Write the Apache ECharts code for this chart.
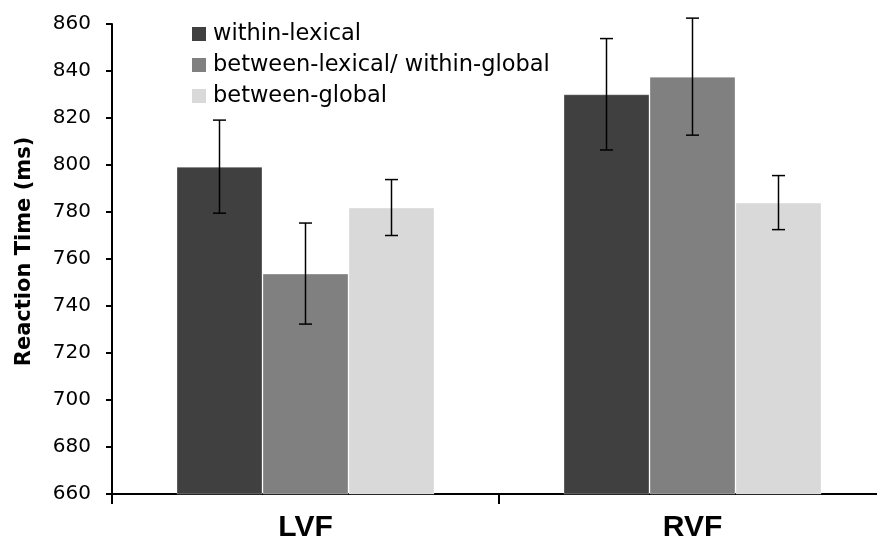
<!DOCTYPE html>
<html>
<head>
<meta charset="utf-8">
<script src="https://cdn.jsdelivr.net/npm/echarts@6/dist/echarts.min.js"></script>
<style>
  html, body { margin: 0; padding: 0; background: #fff; }
  #chart { width: 877px; height: 541px; }
</style>
</head>
<body>
<div id="chart"></div>
<script>
// Visual field categories and the three priming conditions
const categories = ['LVF', 'RVF'];
const seriesNames = ['within-lexical', 'between-lexical/ within-global', 'between-global'];

// Mean reaction times (ms)
const withinLexical = [799.3, 830.1];
const betweenLexical = [753.8, 837.6];
const betweenGlobal = [781.9, 784.0];

// Error bar half-widths (ms)
const withinLexicalErr = [19.8, 23.7];
const betweenLexicalErr = [21.5, 24.9];
const betweenGlobalErr = [11.9, 11.5];

// Value axis range and step
const yMin = 660;
const yMax = 860;
const yStep = 20;

const colors = ['#404040', '#808080', '#d9d9d9'];
const CATEGORY_GAP = 1 / 3;

const means = [withinLexical, betweenLexical, betweenGlobal];
const errs = [withinLexicalErr, betweenLexicalErr, betweenGlobalErr];

function errorBarRenderer(slot) {
  return function (params, api) {
    const cat = api.value(0);
    const mean = api.value(1);
    const err = api.value(2);
    const band = api.size([1, 0])[0];
    const barW = band * (1 - CATEGORY_GAP) / 3;
    const base = api.coord([cat, mean]);
    const x = base[0] + (slot - 1) * barW;
    const top = api.coord([cat, mean + err])[1];
    const bot = api.coord([cat, mean - err])[1];
    const half = 6.5;
    const style = { stroke: '#000', lineWidth: 1.5 };
    return {
      type: 'group',
      children: [
        { type: 'line', shape: { x1: x, y1: top, x2: x, y2: bot }, style: style },
        { type: 'line', shape: { x1: x - half, y1: top, x2: x + half, y2: top }, style: style },
        { type: 'line', shape: { x1: x - half, y1: bot, x2: x + half, y2: bot }, style: style }
      ]
    };
  };
}

const barSeries = seriesNames.map(function (name, i) {
  return {
    name: name,
    type: 'bar',
    data: means[i],
    barGap: '0%',
    barCategoryGap: (CATEGORY_GAP * 100) + '%',
    itemStyle: {
      color: colors[i],
      borderColor: 'rgba(255,255,255,0.3)',
      borderWidth: 1
    },
    emphasis: { disabled: true },
    z: 2
  };
});

const errorSeries = seriesNames.map(function (name, i) {
  return {
    name: name + ' (error)',
    type: 'custom',
    renderItem: errorBarRenderer(i),
    data: categories.map(function (c, k) { return [k, means[i][k], errs[i][k]]; }),
    encode: { x: 0, y: 1 },
    clip: false,
    silent: true,
    z: 5
  };
});

const chart = echarts.init(document.getElementById('chart'), null, { renderer: 'canvas' });
chart.setOption({
  animation: false,
  backgroundColor: '#fff',
  grid: { left: 112, right: -9, top: 24, bottom: 47, outerBoundsMode: 'none' },
  legend: {
    data: seriesNames,
    orient: 'vertical',
    left: 192,
    top: 22,
    padding: 0,
    icon: 'rect',
    itemWidth: 14,
    itemHeight: 14,
    itemGap: 7,
    selectedMode: false,
    itemStyle: { borderWidth: 0 },
    textStyle: {
      fontFamily: 'DejaVu Sans',
      fontSize: 22.5,
      lineHeight: 24,
      color: '#000',
      padding: [0, 0, 0, 2]
    }
  },
  xAxis: {
    type: 'category',
    data: categories,
    axisLine: { show: true, lineStyle: { color: '#000', width: 2 } },
    axisTick: { show: true, length: 10, lineStyle: { color: '#000', width: 2 } },
    axisLabel: {
      fontFamily: 'Liberation Sans',
      fontWeight: 'bold',
      fontSize: 30,
      color: '#000',
      margin: 19
    },
    splitLine: { show: false }
  },
  yAxis: {
    type: 'value',
    min: yMin,
    max: yMax,
    interval: yStep,
    name: 'Reaction Time (ms)',
    nameLocation: 'middle',
    nameGap: 77,
    nameRotate: 90,
    nameTextStyle: {
      fontFamily: 'DejaVu Sans',
      fontWeight: 'bold',
      fontSize: 21,
      color: '#000',
      padding: [0, 0, 0, 15]
    },
    axisLine: { show: true, lineStyle: { color: '#000', width: 2 } },
    axisTick: { show: true, length: 6, lineStyle: { color: '#000', width: 2 } },
    axisLabel: {
      fontFamily: 'DejaVu Sans',
      fontSize: 20,
      color: '#000',
      margin: 21
    },
    splitLine: { show: false }
  },
  series: barSeries.concat(errorSeries)
});
</script>
</body>
</html>
